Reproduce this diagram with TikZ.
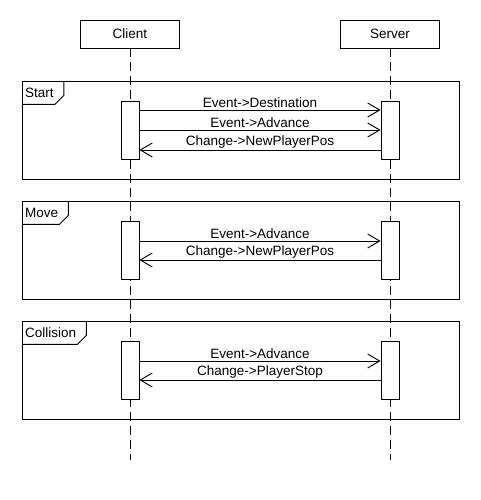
\documentclass[tikz,border=0pt]{standalone}
\usepackage{fontspec}
\setmainfont{Liberation Sans}
\usetikzlibrary{arrows.meta}
\tikzset{
  box/.style={draw=black, line width=0.9pt, fill=white, inner sep=0pt, font=\fontsize{13.5}{16}\selectfont},
  participant/.style={box, minimum width=99pt, minimum height=28pt},
  activation/.style={box, minimum width=18pt, minimum height=58pt},
  frame/.style={draw=black, line width=0.9pt},
  tag/.style={font=\fontsize{13.5}{16}\selectfont, inner xsep=3pt, inner ysep=0pt, minimum height=23pt, anchor=north west},
  lifeline/.style={line width=0.9pt, dash pattern=on 9pt off 5pt},
  msg/.style={line width=0.9pt, -{Straight Barb[length=12pt,width=14pt]}},
  label/.style={font=\fontsize{13.5}{16}\selectfont, inner sep=1.5pt}
}
\begin{document}
\begin{tikzpicture}[x=1pt,y=-1pt]
\fill[white] (0,0) rectangle (480,500);
\useasboundingbox (0,0) rectangle (480,500);
\node[participant] (client) at (130,34) {Client};
\node[participant] (server) at (390,34) {Server};
\coordinate (end) at (0,460);
% combined fragments
\foreach \n/\y/\t in {start/81/Start, move/201/Move, coll/321/Collision} {
  \draw[frame] (22,\y) rectangle (459,\y+98);
  \node[tag] (\n) at (22,\y) {\t};
  \draw[frame] ([xshift=7pt]\n.north east) -- ([xshift=7pt,yshift=9pt]\n.south east)
    -- ([xshift=-2pt]\n.south east) -- (\n.south west);
}
\foreach \p in {client,server} {\draw[lifeline] (\p.south) -- (\p.south |- end);}
% activations
\node[activation] (c1) at (130,130) {};
\node[activation] (s1) at (390,130) {};
\node[activation] (c2) at (130,250) {};
\node[activation] (s2) at (390,250) {};
\node[activation] (c3) at (130,370) {};
\node[activation] (s3) at (390,370) {};
% messages
\draw[msg] (c1.east |- 0,110) -- (s1.west |- 0,110) node[label,above,midway]{Event->Destination};
\draw[msg] (c1.east |- 0,130) -- (s1.west |- 0,130) node[label,above,midway]{Event->Advance};
\draw[msg] (s1.west |- 0,150) -- (c1.east |- 0,150) node[label,above,midway]{Change->NewPlayerPos};
\draw[msg] (c2.east |- 0,241) -- (s2.west |- 0,241) node[label,above,midway]{Event->Advance};
\draw[msg] (s2.west |- 0,260) -- (c2.east |- 0,260) node[label,above,midway]{Change->NewPlayerPos};
\draw[msg] (c3.east |- 0,361) -- (s3.west |- 0,361) node[label,above,midway]{Event->Advance};
\draw[msg] (s3.west |- 0,380) -- (c3.east |- 0,380) node[label,above,midway]{Change->PlayerStop};
\end{tikzpicture}
\end{document}
